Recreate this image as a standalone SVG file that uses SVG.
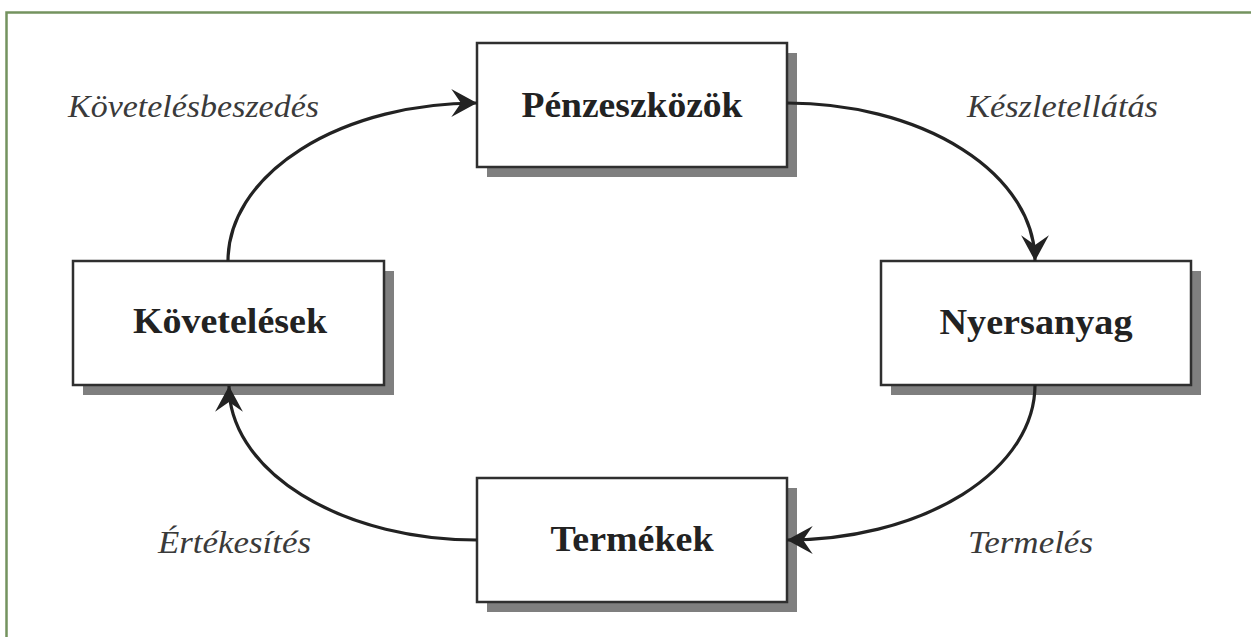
<svg xmlns="http://www.w3.org/2000/svg" width="1251" height="637" viewBox="0 0 1251 637">
  <style>
    .shadow { fill: #7f7f7f; }
    .box { fill: #ffffff; stroke: #2f2f2f; stroke-width: 2.5; }
    .title { font-family: "Liberation Serif", "Times New Roman", serif; font-weight: bold; font-size: 36px; fill: #222222; text-anchor: middle; }
    .lbl { font-family: "Liberation Serif", "Times New Roman", serif; font-style: italic; font-size: 32px; fill: #3a3a3a; }
    .conn { fill: none; stroke: #222222; stroke-width: 3.2; }
  </style>
  <defs>
    <marker id="arrow" markerUnits="userSpaceOnUse" markerWidth="30" markerHeight="30" viewBox="-25 -14 27 28" refX="0" refY="0" orient="auto">
      <path d="M0,0 L-24,-13 L-15,0 L-24,13 Z" fill="#222222"/>
    </marker>
  </defs>
  <rect width="1251" height="637" fill="#ffffff"/>
  <path d="M6.5,637 V12.5 H1251" fill="none" stroke="#74935f" stroke-width="2.5"/>

  <g id="node-penzeszkozok">
    <rect class="shadow" x="487" y="53" width="310" height="124"/>
    <rect class="box" x="477" y="43" width="310" height="124"/>
    <text class="title" x="632" y="117" textLength="221" lengthAdjust="spacingAndGlyphs">Pénzeszközök</text>
  </g>
  <g id="node-nyersanyag">
    <rect class="shadow" x="891" y="271" width="310" height="124"/>
    <rect class="box" x="881" y="261" width="310" height="124"/>
    <text class="title" x="1036" y="334" textLength="193" lengthAdjust="spacingAndGlyphs">Nyersanyag</text>
  </g>
  <g id="node-termekek">
    <rect class="shadow" x="487" y="488" width="310" height="124"/>
    <rect class="box" x="477" y="478" width="310" height="124"/>
    <text class="title" x="632" y="551" textLength="163" lengthAdjust="spacingAndGlyphs">Termékek</text>
  </g>
  <g id="node-kovetelesek">
    <rect class="shadow" x="83" y="271" width="311" height="124"/>
    <rect class="box" x="73" y="261" width="311" height="124"/>
    <text class="title" x="230" y="333" textLength="194" lengthAdjust="spacingAndGlyphs">Követelések</text>
  </g>

  <g id="connectors">
    <path class="conn" d="M228,261 A249,158 0 0 1 477,103" marker-end="url(#arrow)"/>
    <path class="conn" d="M787,103 A248,158 0 0 1 1035,261" marker-end="url(#arrow)"/>
    <path class="conn" d="M1035,385 A248,155 0 0 1 787,540" marker-end="url(#arrow)"/>
    <path class="conn" d="M477,540 A248,154 0 0 1 229,386" marker-end="url(#arrow)"/>
  </g>

  <g id="labels">
    <text class="lbl" x="68" y="117" textLength="251" lengthAdjust="spacingAndGlyphs">Követelésbeszedés</text>
    <text class="lbl" x="967" y="117" textLength="191" lengthAdjust="spacingAndGlyphs">Készletellátás</text>
    <text class="lbl" x="158" y="553" textLength="153" lengthAdjust="spacingAndGlyphs">Értékesítés</text>
    <text class="lbl" x="968" y="553" textLength="125" lengthAdjust="spacingAndGlyphs">Termelés</text>
  </g>
</svg>
